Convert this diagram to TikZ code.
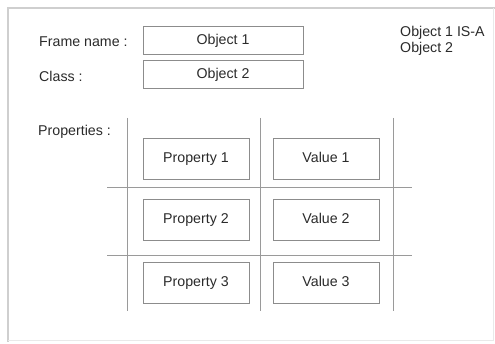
\documentclass[tikz,border=0pt]{standalone}
\usepackage{fontspec}
\setmainfont{Liberation Sans}
\definecolor{txtgray}{HTML}{2A2A2A}
\definecolor{boxgray}{HTML}{8C8C8C}
\definecolor{gridgray}{HTML}{9A9A9A}
\definecolor{framegray}{HTML}{CFCFCF}
\tikzset{
  slotbox/.style={draw=boxgray, line width=1pt, minimum width=160pt, minimum height=28pt, inner sep=0pt, text height=10pt, text depth=3pt, text=txtgray, font=\fontsize{14.2}{15.5}\selectfont},
  cellbox/.style={slotbox, minimum width=106pt, minimum height=41pt},
  labeltext/.style={anchor=west, inner sep=0pt, text=txtgray, font=\fontsize{14.2}{15.5}\selectfont},
  gridline/.style={draw=gridgray, line width=0.9pt}
}
\begin{document}
\begin{tikzpicture}[x=1pt,y=-1pt]
\useasboundingbox (0,0) rectangle (495,344);

% 外枠
\draw[framegray, line width=1.6pt] (8,342)--(8,8)--(495,8);
\draw[framegray!45, line width=1pt] (8,341)--(493,341)--(493,8);

% フレーム名・クラス
\node[labeltext] (frameName) at (39,42) {Frame name :};
\node[slotbox] (obj1) at (223,41) {Object 1};
\node[labeltext] (classLabel) at (39,76) {Class :};
\node[slotbox] (obj2) at (223,75) {Object 2};

% IS-A
\node[labeltext, align=left] (isa) at (400,41) {Object 1 IS-A\\Object 2};

% プロパティ
\node[labeltext] (propLabel) at (38,132) {Properties :};

% 縦線
\draw[gridline] (127,118)--(127,311);
\draw[gridline] (260,118)--(260,311);
\draw[gridline] (393,118)--(393,311);

% 横線
\draw[gridline] (107,187)--(412,187);
\draw[gridline] (107,255)--(412,255);

% 1行目
\node[cellbox] (prop1) at (196,159.5) {Property 1};
\node[cellbox] (val1) at (326,159.5) {Value 1};

% 2行目
\node[cellbox] (prop2) at (196,220) {Property 2};
\node[cellbox] (val2) at (326,220) {Value 2};

% 3行目
\node[cellbox] (prop3) at (196,283.5) {Property 3};
\node[cellbox] (val3) at (326,283.5) {Value 3};

\end{tikzpicture}
\end{document}
